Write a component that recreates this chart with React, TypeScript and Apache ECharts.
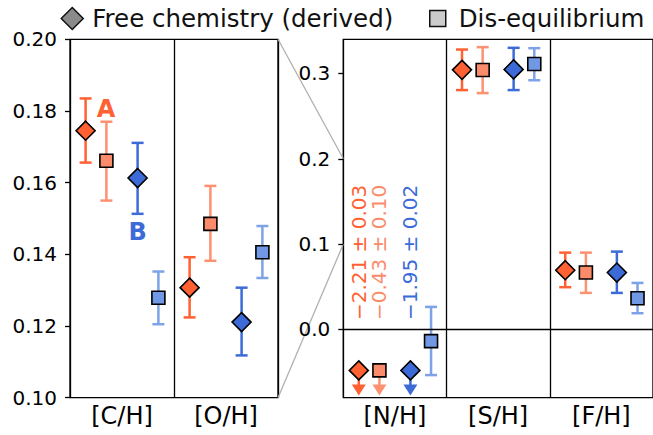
import { useEffect, useRef } from 'react';
import * as echarts from 'echarts';

// ---------- data ----------
const leftCategories = ['[C/H]', '[O/H]'];
const rightCategories = ['[N/H]', '[S/H]', '[F/H]'];

const leftTicks = [0.1, 0.12, 0.14, 0.16, 0.18, 0.2];
const rightTicks = [0.0, 0.1, 0.2, 0.3];

// values per element: C, O, N, S, F
const aFreeValue = [0.1745, 0.1307, -0.048, 0.3042, 0.0694];
const aFreeLow = [0.1656, 0.1224, null, 0.2805, 0.0495];
const aFreeHigh = [0.1835, 0.1392, null, 0.328, 0.09];
const aFreeLimit = [false, false, true, false, false];

const aDiseqValue = [0.1661, 0.1485, -0.048, 0.304, 0.0667];
const aDiseqLow = [0.155, 0.1382, null, 0.277, 0.0428];
const aDiseqHigh = [0.177, 0.1591, null, 0.3308, 0.09];
const aDiseqLimit = [false, false, true, false, false];

const bFreeValue = [0.1613, 0.1211, -0.048, 0.3047, 0.0667];
const bFreeLow = [0.1513, 0.1118, null, 0.2805, 0.0428];
const bFreeHigh = [0.1711, 0.1307, null, 0.33, 0.0912];
const bFreeLimit = [false, false, true, false, false];

const bDiseqValue = [0.1279, 0.1406, -0.0137, 0.311, 0.0366];
const bDiseqLow = [0.1205, 0.1334, -0.0535, 0.292, 0.019];
const bDiseqHigh = [0.1352, 0.1479, 0.0264, 0.3296, 0.0545];
const bDiseqLimit = [false, false, false, false, false];

const nhAnnotations = ['\u22122.21 \u00b1 0.03', '\u22120.43 \u00b1 0.10', '\u22121.95 \u00b1 0.02'];
const legendNames = ['Free chemistry (derived)', 'Dis-equilibrium'];
const letterLabels = ['A', 'B'];

// ---------- style ----------
const FONT = 'DejaVu Sans';
const groups = [
  { value: aFreeValue, low: aFreeLow, high: aFreeHigh, limit: aFreeLimit, color: '#ff6133', bar: '#ff6133', symbol: 'diamond', size: 19, name: legendNames[0] },
  { value: aDiseqValue, low: aDiseqLow, high: aDiseqHigh, limit: aDiseqLimit, color: '#fa8c6c', bar: '#fd9272', symbol: 'rect', size: 13, name: legendNames[1] },
  { value: bFreeValue, low: bFreeLow, high: bFreeHigh, limit: bFreeLimit, color: '#3c6bd8', bar: '#3c6bd8', symbol: 'diamond', size: 19, name: legendNames[0] },
  { value: bDiseqValue, low: bDiseqLow, high: bDiseqHigh, limit: bDiseqLimit, color: '#7098e4', bar: '#7ea2e8', symbol: 'rect', size: 13, name: legendNames[1] },
];
const offsets = [-0.35, -0.15, 0.15, 0.35];
const nLeft = leftCategories.length;

function buildSeries() {
  const series: any[] = [];
  groups.forEach((g, gi) => {
    [0, 1].forEach((panel) => {
      const idxs = panel === 0 ? [0, 1] : [2, 3, 4];
      const base = panel === 0 ? 0 : nLeft;
      const pts: any[] = [];
      const bars: any[] = [];
      const arrows: any[] = [];
      idxs.forEach((ei) => {
        const x = ei - base + 0.5 + offsets[gi];
        pts.push([x, g.value[ei]]);
        if (g.limit[ei]) arrows.push([x, g.value[ei]]);
        else if (g.low[ei] != null) bars.push([x, g.low[ei], g.high[ei]]);
      });
      const xAxisIndex = panel === 0 ? 0 : 2;
      const yAxisIndex = panel;
      series.push({
        type: 'custom',
        xAxisIndex, yAxisIndex,
        silent: true,
        z: 2,
        data: bars,
        encode: { x: 0, y: [1, 2] },
        renderItem: (params: any, api: any) => {
          const x = api.value(0);
          const lo = api.coord([x, api.value(1)]);
          const hi = api.coord([x, api.value(2)]);
          const cap = 6;
          const st = { stroke: g.bar, lineWidth: 2.5 };
          return {
            type: 'group',
            children: [
              { type: 'line', shape: { x1: lo[0], y1: lo[1], x2: hi[0], y2: hi[1] }, style: st },
              { type: 'line', shape: { x1: lo[0] - cap, y1: lo[1], x2: lo[0] + cap, y2: lo[1] }, style: st },
              { type: 'line', shape: { x1: hi[0] - cap, y1: hi[1], x2: hi[0] + cap, y2: hi[1] }, style: st },
            ],
          };
        },
      });
      if (arrows.length) {
        series.push({
          type: 'custom',
          xAxisIndex, yAxisIndex,
          silent: true,
          z: 2,
          data: arrows,
          encode: { x: 0, y: 1 },
          renderItem: (params: any, api: any) => {
            const p = api.coord([api.value(0), api.value(1)]);
            const tipY = p[1] + 25;
            const headL = 11;
            const headW = 7;
            return {
              type: 'group',
              children: [
                { type: 'line', shape: { x1: p[0], y1: p[1], x2: p[0], y2: tipY - headL + 1 }, style: { stroke: g.bar, lineWidth: 2.5 } },
                { type: 'polygon', shape: { points: [[p[0] - headW, tipY - headL], [p[0] + headW, tipY - headL], [p[0], tipY]] }, style: { fill: g.bar } },
              ],
            };
          },
        });
      }
      series.push({
        type: 'scatter',
        name: g.name,
        xAxisIndex, yAxisIndex,
        symbol: g.symbol,
        symbolSize: g.size,
        z: 5,
        silent: true,
        itemStyle: { color: g.color, borderColor: '#000', borderWidth: 1.6, opacity: 1 },
        data: pts,
      });
    });
  });

  // zero line in right panel
  series.push({
    type: 'line',
    xAxisIndex: 2, yAxisIndex: 1,
    data: [],
    silent: true,
    markLine: {
      silent: true,
      symbol: 'none',
      label: { show: false },
      lineStyle: { color: '#000', width: 1.3, type: 'solid' },
      data: [{ yAxis: 0 }],
    },
  });

  // rotated annotations for [N/H]
  const annData = nhAnnotations.map((_, i) => [0.5 + offsets[i], 0.011]);
  series.push({
    type: 'custom',
    xAxisIndex: 2, yAxisIndex: 1,
    silent: true,
    z: 6,
    data: annData,
    encode: { x: 0, y: 1 },
    renderItem: (params: any, api: any) => {
      const p = api.coord([api.value(0), api.value(1)]);
      return {
        type: 'text',
        x: p[0], y: p[1],
        rotation: Math.PI / 2,
        style: {
          text: nhAnnotations[params.dataIndex],
          fill: groups[params.dataIndex].color,
          font: `20px "${FONT}"`,
          align: 'left',
          verticalAlign: 'middle',
        },
      };
    },
  });

  // letters A and B
  const letterData = [[0.346, 0.1806], [0.651, 0.1462]];
  const letterColors = [groups[0].color, groups[2].color];
  series.push({
    type: 'custom',
    xAxisIndex: 0, yAxisIndex: 0,
    silent: true,
    z: 6,
    data: letterData,
    encode: { x: 0, y: 1 },
    renderItem: (params: any, api: any) => {
      const p = api.coord([api.value(0), api.value(1)]);
      return {
        type: 'text',
        x: p[0], y: p[1],
        style: {
          text: letterLabels[params.dataIndex],
          fill: letterColors[params.dataIndex],
          font: `bold 24px "${FONT}"`,
          align: 'center',
          verticalAlign: 'middle',
        },
      };
    },
  });
  return series;
}

const axisLabelStyle = { color: '#000', fontSize: 20, fontFamily: FONT };

export default function App() {
  const ref = useRef<HTMLDivElement>(null);
  useEffect(() => {
    document.body.style.margin = '0';
    const chart = echarts.init(ref.current!, null, { renderer: 'svg' });
    const gridTop = 39.3;
    const gridBottom = 435 - 397.7;
    const option: any = {
      animation: false,
      backgroundColor: '#fff',
      textStyle: { fontFamily: FONT },
      legend: [
        {
          left: 60.5, top: 6, padding: 0,
          itemWidth: 22, itemHeight: 22,
          selectedMode: false,
          textStyle: { fontSize: 24.5, color: '#111', fontFamily: FONT, padding: [0, 0, 0, 4] },
          data: [{ name: legendNames[0], icon: 'diamond', itemStyle: { color: '#8a8a8a', borderColor: '#111', borderWidth: 1.5 } }],
        },
        {
          left: 429, top: 6, padding: 0,
          itemWidth: 16, itemHeight: 16,
          selectedMode: false,
          textStyle: { fontSize: 24.5, color: '#111', fontFamily: FONT, padding: [0, 0, 0, 8] },
          data: [{ name: legendNames[1], icon: 'rect', itemStyle: { color: '#cccccc', borderColor: '#111', borderWidth: 1.5 } }],
        },
      ],
      grid: [
        { left: 70, top: gridTop, width: 208, bottom: gridBottom, show: true, borderColor: '#000', borderWidth: 1.3, backgroundColor: 'transparent' },
        { left: 343.3, top: gridTop, width: 313, bottom: gridBottom, show: true, borderColor: '#000', borderWidth: 1.3, backgroundColor: 'transparent' },
      ],
      xAxis: [
        {
          type: 'value', gridIndex: 0, min: 0, max: leftCategories.length, interval: 1, position: 'bottom',
          axisLine: { show: false }, axisTick: { show: false }, axisLabel: { show: false },
          splitLine: { show: true, lineStyle: { color: '#000', width: 1.3 } },
        },
        {
          type: 'category', gridIndex: 0, data: leftCategories, position: 'bottom',
          axisLine: { show: false }, axisTick: { show: false }, splitLine: { show: false },
          axisLabel: { ...axisLabelStyle, fontSize: 24, margin: 6 },
        },
        {
          type: 'value', gridIndex: 1, min: 0, max: rightCategories.length, interval: 1, position: 'bottom',
          axisLine: { show: false }, axisTick: { show: false }, axisLabel: { show: false },
          splitLine: { show: true, lineStyle: { color: '#000', width: 1.3 } },
        },
        {
          type: 'category', gridIndex: 1, data: rightCategories, position: 'bottom',
          axisLine: { show: false }, axisTick: { show: false }, splitLine: { show: false },
          axisLabel: { ...axisLabelStyle, fontSize: 24, margin: 6 },
        },
      ],
      yAxis: [
        {
          type: 'value', gridIndex: 0, min: 0.1, max: 0.2,
          axisLine: { show: false },
          splitLine: { show: false },
          axisTick: { show: true, inside: false, length: 5, lineStyle: { color: '#000', width: 1.3 }, customValues: leftTicks },
          axisLabel: { ...axisLabelStyle, margin: 13, customValues: leftTicks, formatter: (v: number) => v.toFixed(2) },
        },
        {
          type: 'value', gridIndex: 1, min: -0.08, max: 0.34,
          axisLine: { show: false },
          splitLine: { show: false },
          axisTick: { show: true, inside: false, length: 5, lineStyle: { color: '#000', width: 1.3 }, customValues: rightTicks },
          axisLabel: { ...axisLabelStyle, margin: 13, customValues: rightTicks, formatter: (v: number) => v.toFixed(1) },
        },
      ],
      series: buildSeries(),
    };
    chart.setOption(option);

    // zoom connector lines from left panel range to right axis
    const zoomRange = [0.2, 0.1];
    const lines = zoomRange.map((v) => {
      const a = chart.convertToPixel({ xAxisIndex: 0, yAxisIndex: 0 }, [leftCategories.length, v]) as number[];
      const b = chart.convertToPixel({ xAxisIndex: 2, yAxisIndex: 1 }, [0, v]) as number[];
      return {
        type: 'line',
        silent: true,
        z: 0,
        shape: { x1: a[0], y1: a[1], x2: b[0], y2: b[1] },
        style: { stroke: '#b0b0b0', lineWidth: 1.3 },
      };
    });
    chart.setOption({ graphic: lines });

    return () => chart.dispose();
  }, []);
  return <div ref={ref} style={{ width: 653, height: 435 }} />;
}
